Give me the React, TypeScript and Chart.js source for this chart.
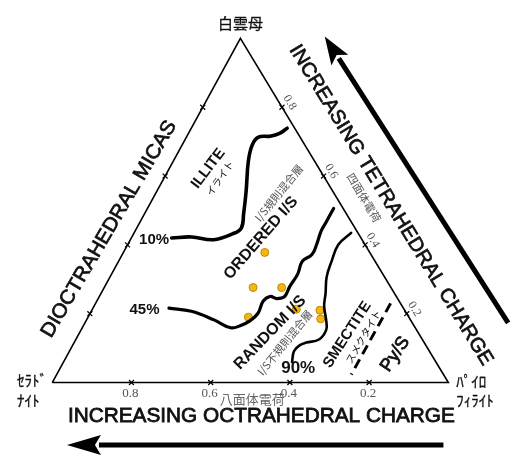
import { useEffect, useRef } from "react";
import { Chart, registerables } from "chart.js";

Chart.register(...registerables);

// Ternary points are [octahedral charge, tetrahedral charge]
const tickValues = [0.2, 0.4, 0.6, 0.8];
const tickLabels = ["0.2", "0.4", "0.6", "0.8"];

const illiteBoundary: [number, number][] = [
  [0.478, 0.42], [0.426, 0.423], [0.375, 0.415], [0.318, 0.432], [0.287, 0.449],
  [0.259, 0.491], [0.218, 0.557], [0.168, 0.642], [0.133, 0.69], [0.105, 0.713],
  [0.074, 0.716], [0.046, 0.724], [0.019, 0.739],
];

const orderedBoundary: [number, number][] = [
  [0.592, 0.216], [0.54, 0.207], [0.496, 0.182], [0.466, 0.159], [0.439, 0.165],
  [0.407, 0.179], [0.374, 0.202], [0.344, 0.236], [0.319, 0.25], [0.305, 0.244],
  [0.282, 0.25], [0.255, 0.278], [0.215, 0.315], [0.184, 0.352], [0.149, 0.372],
  [0.122, 0.401], [0.092, 0.438], [0.064, 0.466], [0.024, 0.506],
];

const smectiteBoundary: [number, number][] = [
  [0.017, 0.435], [0.067, 0.401], [0.11, 0.352], [0.146, 0.307], [0.174, 0.259],
  [0.197, 0.222], [0.213, 0.182], [0.228, 0.153], [0.261, 0.125], [0.298, 0.116],
  [0.319, 0.108], [0.342, 0.091], [0.363, 0.06],
];

const pyBoundary: [number, number][] = [[0.025, 0.23], [0.233, 0.023]];

const samples: [number, number][] = [
  [0.265, 0.378], [0.348, 0.276], [0.276, 0.276], [0.405, 0.19],
  [0.272, 0.213], [0.214, 0.21], [0.225, 0.185],
];

const vertices: [number, number][] = [[1, 0], [0, 0], [0, 1], [1, 0]];

const topName = "白雲母";
const leftName = ["ｾﾗﾄﾞ", "ﾅｲﾄ"];
const rightName = ["ﾊﾟｲﾛ", "ﾌｨﾗｲﾄ"];

const SKEW = 0.525;
const toXY = (p: [number, number]) => ({ x: 1 - p[0] - SKEW * p[1], y: p[1] });

const SANS = "'Liberation Sans', Arial, sans-serif";
const CJK = "'Noto Sans CJK JP', sans-serif";
const SERIF = "'Liberation Serif', 'DejaVu Serif', serif";

type Label = {
  text: string; x: number; y: number; angle?: number; font: string;
  color?: string; fit?: number; align?: CanvasTextAlign; heavy?: number;
};

const labels: Label[] = [
  { text: topName, x: 0.475, y: 1.045, font: `15px ${CJK}`, heavy: 0.3 },
  { text: leftName[0], x: -0.089, y: 0.006, font: `15px ${CJK}`, align: "left", heavy: 0.3 },
  { text: leftName[1], x: -0.089, y: -0.051, font: `15px ${CJK}`, align: "left", heavy: 0.3 },
  { text: rightName[0], x: 1.02, y: 0.003, font: `15px ${CJK}`, align: "left", heavy: 0.3 },
  { text: rightName[1], x: 1.02, y: -0.051, font: `15px ${CJK}`, align: "left", heavy: 0.3 },
  { text: "INCREASING OCTRAHEDRAL CHARGE", x: 0.528, y: -0.0966, font: `21px ${SANS}`, fit: 387, heavy: 0.8 },
  { text: "INCREASING TETRAHEDRAL CHARGE", x: 0.855, y: 0.5156, angle: 58.5, font: `20px ${SANS}`, fit: 372, heavy: 0.7 },
  { text: "DIOCTRAHEDRAL MICAS", x: 0.1436, y: 0.446, angle: -59.5, font: `20px ${SANS}`, fit: 248, heavy: 0.7 },
  { text: "ILLITE", x: 0.394, y: 0.622, angle: -53, font: `bold 15px ${SANS}` },
  { text: "イライト", x: 0.423, y: 0.594, angle: -55, font: `10px ${CJK}` },
  { text: "I/S規則混合層", x: 0.572, y: 0.551, angle: -51, font: `11px ${CJK}`, color: "#555" },
  { text: "ORDERED I/S", x: 0.527, y: 0.42, angle: -49, font: `bold 16px ${SANS}` },
  { text: "RANDOM I/S", x: 0.55, y: 0.145, angle: -46, font: `bold 16px ${SANS}` },
  { text: "I/S不規則混合層", x: 0.587, y: 0.116, angle: -51, font: `11px ${CJK}`, color: "#555" },
  { text: "SMECTITE", x: 0.745, y: 0.139, angle: -57, font: `bold 15px ${SANS}` },
  { text: "スメクタイト", x: 0.785, y: 0.1335, angle: -60, font: `10px ${CJK}` },
  { text: "Py/S", x: 0.866, y: 0.0824, angle: -56, font: `18px ${SANS}`, heavy: 0.8 },
  { text: "10%", x: 0.257, y: 0.415, font: `bold 15px ${SANS}` },
  { text: "45%", x: 0.233, y: 0.21, font: `bold 15px ${SANS}` },
  { text: "90%", x: 0.621, y: 0.04, font: `bold 17px ${SANS}` },
  { text: "四面体電荷", x: 0.787, y: 0.537, angle: 59, font: `11px ${CJK}`, color: "#555" },
  { text: "八面体電荷", x: 0.505, y: -0.048, font: `13px ${CJK}`, color: "#666" },
];

const arrows = [
  { tail: { x: 0.9876, y: -0.1818 }, tip: { x: 0.0371, y: -0.1818 }, head: 34, half: 10, width: 5 },
  { tail: { x: 1.151, y: 0.1733 }, tip: { x: 0.688, y: 1.0057 }, head: 28, half: 10, width: 5 },
];

function drawText(ctx: CanvasRenderingContext2D, l: Label, px: number, py: number) {
  ctx.save();
  ctx.translate(px, py);
  ctx.rotate(((l.angle || 0) * Math.PI) / 180);
  ctx.font = l.font;
  ctx.fillStyle = l.color || "#111";
  ctx.strokeStyle = l.color || "#111";
  ctx.textAlign = l.align || "center";
  ctx.textBaseline = "middle";
  if (l.fit) {
    const w = ctx.measureText(l.text).width;
    ctx.scale(l.fit / w, 1);
  }
  ctx.fillText(l.text, 0, 0);
  if (l.heavy) {
    ctx.lineWidth = l.heavy;
    ctx.strokeText(l.text, 0, 0);
  }
  ctx.restore();
}

const decorPlugin = {
  id: "decor",
  afterDatasetsDraw(chart: any) {
    const ctx: CanvasRenderingContext2D = chart.ctx;
    const xs = chart.scales.x;
    const ys = chart.scales.y;
    const P = (p: { x: number; y: number }) => ({ x: xs.getPixelForValue(p.x), y: ys.getPixelForValue(p.y) });

    // arrows
    for (const a of arrows) {
      const t = P(a.tip);
      const s = P(a.tail);
      const dx = t.x - s.x, dy = t.y - s.y;
      const len = Math.hypot(dx, dy);
      const ux = dx / len, uy = dy / len;
      const bx = t.x - ux * a.head, by = t.y - uy * a.head;
      ctx.save();
      ctx.strokeStyle = "#000";
      ctx.lineWidth = a.width;
      ctx.beginPath();
      ctx.moveTo(s.x, s.y);
      ctx.lineTo(bx + ux * 2, by + uy * 2);
      ctx.stroke();
      ctx.fillStyle = "#000";
      ctx.beginPath();
      ctx.moveTo(t.x, t.y);
      ctx.lineTo(bx - uy * a.half, by + ux * a.half);
      ctx.lineTo(bx + ux * 6, by + uy * 6);
      ctx.lineTo(bx + uy * a.half, by - ux * a.half);
      ctx.closePath();
      ctx.fill();
      ctx.restore();
    }

    // bottom tick labels
    tickValues.forEach((v, i) => {
      const p = P(toXY([v, 0]));
      drawText(ctx, { text: tickLabels[i], x: 0, y: 0, font: `13px ${SERIF}`, color: "#555" }, p.x - 1, p.y + 11);
    });
    // right-edge tick labels (tetrahedral)
    const a = P(toXY([0, 1]));
    const b = P(toXY([0, 0]));
    const ex = b.x - a.x, ey = b.y - a.y;
    const el = Math.hypot(ex, ey);
    const nx = ey / el, ny = -ex / el;
    const ang = (Math.atan2(ey, ex) * 180) / Math.PI;
    tickValues.forEach((v, i) => {
      const p = P(toXY([0, v]));
      drawText(ctx, { text: tickLabels[i], x: 0, y: 0, angle: ang, font: `12px ${SERIF}`, color: "#555" }, p.x + nx * 9, p.y + ny * 9);
    });

    for (const l of labels) {
      const p = P({ x: l.x, y: l.y });
      drawText(ctx, l, p.x, p.y);
    }
  },
};

export default function App() {
  const ref = useRef<HTMLCanvasElement | null>(null);
  useEffect(() => {
    if (!ref.current) return;
    const line = (pts: [number, number][], width: number, extra: any = {}) => ({
      type: "scatter",
      data: pts.map(toXY),
      showLine: true,
      borderColor: "#000",
      borderWidth: width,
      pointRadius: 0,
      tension: 0.4,
      fill: false,
      borderCapStyle: "round",
      borderJoinStyle: "round",
      ...extra,
    });
    const ticks: [number, number][] = [];
    tickValues.forEach((v) => {
      ticks.push([v, 0]);
      ticks.push([0, v]);
      ticks.push([1 - v, v]);
    });
    const chart = new Chart(ref.current, {
      type: "scatter",
      data: {
        datasets: [
          line(vertices, 1.6, { tension: 0, borderCapStyle: "butt", borderJoinStyle: "miter" }),
          line(illiteBoundary, 3.6),
          line(orderedBoundary, 3.2),
          line(smectiteBoundary, 2.6),
          line(pyBoundary, 3, { tension: 0, borderDash: [10, 6], borderCapStyle: "butt" }),
          {
            type: "scatter",
            data: ticks.map(toXY),
            pointStyle: "crossRot",
            pointRadius: 3.5,
            borderColor: "#000",
            borderWidth: 1.2,
            showLine: false,
          },
          {
            type: "scatter",
            data: samples.map(toXY),
            pointRadius: 4,
            backgroundColor: "#F2B80F",
            borderColor: "#C08A00",
            borderWidth: 1,
            showLine: false,
          },
        ] as any,
      },
      options: {
        responsive: false,
        animation: false,
        layout: { padding: 0 },
        plugins: { legend: { display: false }, tooltip: { enabled: false } },
        scales: {
          x: { type: "linear", min: -48 / 404, max: 482 / 404, display: false },
          y: { type: "linear", min: -76 / 352, max: 386 / 352, display: false },
        },
      },
      plugins: [decorPlugin],
    });
    return () => chart.destroy();
  }, []);
  return (
    <div style={{ position: "absolute", left: 0, top: 0, width: 530, height: 462, background: "#fff" }}>
      <canvas ref={ref} width={530} height={462} style={{ display: "block" }} />
    </div>
  );
}
